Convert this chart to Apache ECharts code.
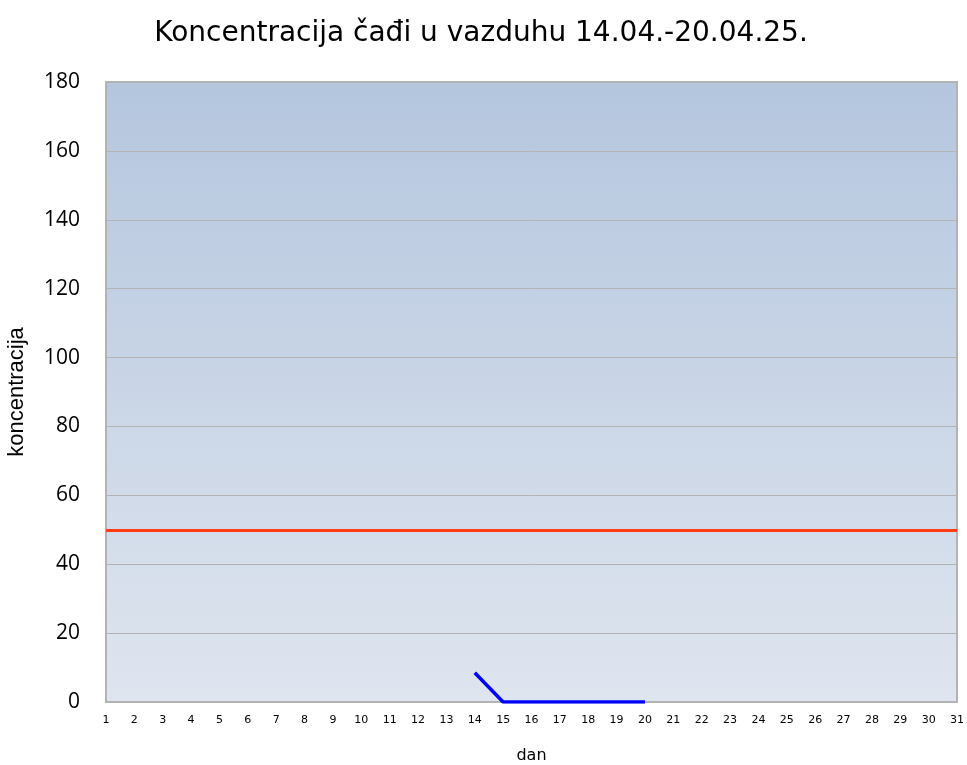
<!DOCTYPE html>
<html style="height: 100%">
<head>
    <meta charset="utf-8">
</head>
<body style="height: 100%; margin: 0; background: #fff">
<div id="container" style="width: 967px; height: 765px"></div>

<script type="text/javascript" src="https://cdn.jsdelivr.net/npm/echarts@6/dist/echarts.min.js"></script>
<script type="text/javascript">
    // days of the month
    let days = ['1', '2', '3', '4', '5', '6', '7', '8', '9', '10', '11', '12', '13', '14', '15', '16',
        '17', '18', '19', '20', '21', '22', '23', '24', '25', '26', '27', '28', '29', '30', '31'];
    // measured concentration (only 14.-20.)
    let concentration = [null, null, null, null, null, null, null, null, null, null, null, null, null,
        8.5, 0, 0, 0, 0, 0, 0,
        null, null, null, null, null, null, null, null, null, null, null];
    // allowed limit
    let limitValue = 50;
    let yTicks = [0, 20, 40, 60, 80, 100, 120, 140, 160, 180];

    var dom = document.getElementById("container");
    var myChart = echarts.init(dom);
    var option;

    option = {
        animation: false,
        title: {
            text: 'Koncentracija čađi u vazduhu 14.04.-20.04.25.',
            left: 476,
            top: 15,
            textAlign: 'center',
            textStyle: {
                fontFamily: 'DejaVu Sans',
                fontSize: 28,
                fontWeight: 'normal',
                color: '#000'
            }
        },
        grid: {
            left: 106,
            right: 10,
            top: 82,
            bottom: 63,
            outerBoundsMode: 'none',
            show: true,
            borderColor: '#b3b3b3',
            borderWidth: 2,
            backgroundColor: {
                type: 'linear', x: 0, y: 0, x2: 0, y2: 1,
                colorStops: [
                    {offset: 0, color: '#b4c6de'},
                    {offset: 1, color: '#dfe5ef'}
                ]
            }
        },
        xAxis: {
            type: 'category',
            data: days,
            boundaryGap: false,
            name: 'dan',
            nameLocation: 'middle',
            nameGap: 46,
            nameTextStyle: {
                fontFamily: 'DejaVu Sans',
                fontSize: 16,
                color: '#000'
            },
            axisLine: {show: false},
            axisTick: {show: false},
            axisLabel: {
                interval: 0,
                margin: 13,
                fontFamily: 'DejaVu Sans',
                fontSize: 11,
                color: '#000'
            },
            splitLine: {show: false}
        },
        yAxis: {
            type: 'value',
            min: yTicks[0],
            max: yTicks[yTicks.length - 1],
            interval: 20,
            name: 'koncentracija',
            nameLocation: 'middle',
            nameGap: 78,
            nameTextStyle: {
                fontFamily: 'Liberation Sans',
                fontSize: 22,
                color: '#000'
            },
            axisLine: {show: false},
            axisTick: {show: false},
            axisLabel: {
                margin: 26,
                fontFamily: 'Open Sans',
                fontSize: 21,
                color: '#000'
            },
            splitLine: {
                lineStyle: {color: '#b3b3b3', width: 1}
            }
        },
        series: [
            {
                type: 'line',
                data: concentration,
                showSymbol: false,
                connectNulls: false,
                lineStyle: {color: '#0000ff', width: 3.5},
                itemStyle: {color: '#0000ff'},
                markLine: {
                    symbol: 'none',
                    silent: true,
                    label: {show: false},
                    lineStyle: {color: '#ff3c14', width: 3, type: 'solid'},
                    data: [{yAxis: limitValue}]
                }
            }
        ]
    };

    if (option && typeof option === 'object') {
        myChart.setOption(option);
    }
</script>
</body>
</html>
